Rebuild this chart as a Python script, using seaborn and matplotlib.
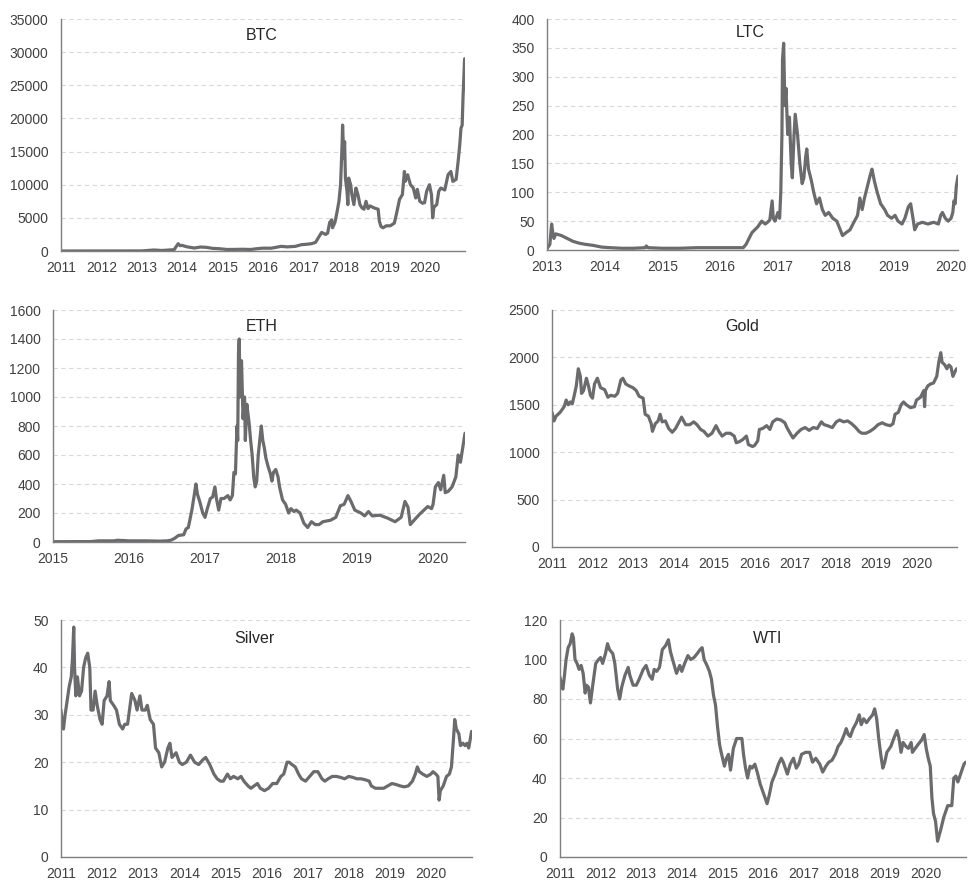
import numpy as np
import pandas as pd
import seaborn as sns
import matplotlib
matplotlib.use('Agg')
import matplotlib.pyplot as plt

# Data (x = fractional year)
btc_x = [2011.0, 2012.0, 2013.0, 2013.3, 2013.5, 2013.8, 2013.9, 2013.95, 2014.0, 2014.1, 2014.2, 2014.3,
         2014.45, 2014.6, 2014.75, 2014.9, 2015.0, 2015.1, 2015.3, 2015.5, 2015.7, 2015.85, 2016.0, 2016.2,
         2016.45, 2016.6, 2016.8, 2016.95, 2017.05, 2017.2, 2017.3, 2017.4, 2017.45, 2017.55, 2017.6, 2017.65,
         2017.7, 2017.72, 2017.78, 2017.83, 2017.88, 2017.92, 2017.96, 2017.97, 2018.0, 2018.02, 2018.04,
         2018.08, 2018.1, 2018.12, 2018.17, 2018.2, 2018.25, 2018.3, 2018.35, 2018.4, 2018.45, 2018.5, 2018.55,
         2018.6, 2018.65, 2018.75, 2018.85, 2018.88, 2018.92, 2018.97, 2019.05, 2019.15, 2019.25, 2019.3,
         2019.38, 2019.45, 2019.5, 2019.52, 2019.58, 2019.65, 2019.72, 2019.78, 2019.82, 2019.88, 2019.95,
         2020.0, 2020.05, 2020.12, 2020.17, 2020.2, 2020.23, 2020.3, 2020.35, 2020.4, 2020.5, 2020.58, 2020.65,
         2020.7, 2020.78, 2020.83, 2020.87, 2020.9, 2020.93, 2020.95, 2020.99]
btc_y = [0.3, 5, 13, 150, 80, 200, 1100, 800, 850, 650, 550, 450,
         600, 550, 400, 350, 300, 230, 240, 260, 230, 350, 430, 420,
         700, 620, 700, 950, 1000, 1100, 1300, 2300, 2800, 2500, 2700, 4300,
         4700, 3500, 4300, 5800, 7500, 10000, 16500, 19000, 14000, 16500, 11000,
         9000, 7000, 11000, 10000, 8500, 7000, 9500, 8500, 7000, 6500, 6300, 7500,
         6400, 6800, 6500, 6300, 4500, 3700, 3500, 3800, 3800, 4200, 5500,
         7800, 8500, 12000, 10500, 11500, 10000, 9500, 8000, 9300, 7500, 7200,
         7300, 9000, 10000, 8500, 5000, 6600, 7000, 9000, 9500, 9200, 11500, 12000,
         10500, 10800, 13500, 16000, 18500, 19000, 23000, 29000]

ltc_x = [2013.0, 2013.05, 2013.08, 2013.1, 2013.12, 2013.15, 2013.25, 2013.35, 2013.45, 2013.55, 2013.65,
         2013.8, 2013.95, 2014.1, 2014.3, 2014.5, 2014.7, 2014.72, 2014.75, 2015.0, 2015.3, 2015.6, 2015.9,
         2016.2, 2016.4, 2016.45, 2016.5, 2016.55, 2016.6, 2016.65, 2016.72, 2016.78, 2016.82, 2016.86, 2016.9,
         2016.92, 2016.95, 2017.0, 2017.03, 2017.05, 2017.07, 2017.08, 2017.1, 2017.12, 2017.14, 2017.17,
         2017.2, 2017.23, 2017.25, 2017.28, 2017.3, 2017.34, 2017.38, 2017.42, 2017.45, 2017.48, 2017.5,
         2017.53, 2017.58, 2017.62, 2017.67, 2017.72, 2017.77, 2017.82, 2017.88, 2017.95, 2018.02, 2018.08,
         2018.12, 2018.18, 2018.25, 2018.3, 2018.38, 2018.42, 2018.46, 2018.5, 2018.55, 2018.6, 2018.63,
         2018.67, 2018.72, 2018.78, 2018.85, 2018.9, 2018.97, 2019.03, 2019.08, 2019.15, 2019.2, 2019.26,
         2019.3, 2019.34, 2019.37, 2019.42, 2019.5, 2019.6, 2019.7, 2019.78, 2019.82, 2019.85, 2019.9,
         2019.95, 2020.0, 2020.03, 2020.05, 2020.07, 2020.09, 2020.12]
ltc_y = [2, 10, 45, 30, 20, 28, 25, 20, 15, 12, 10,
         8, 5, 4, 3, 3, 4, 7, 4, 3, 3, 4, 4,
         4, 4, 10, 20, 30, 35, 40, 50, 45, 48, 52, 85,
         55, 50, 65, 55, 100, 200, 330, 358, 250, 280, 200,
         230, 150, 125, 200, 235, 200, 150, 115, 125, 160, 175,
         140, 120, 100, 80, 90, 70, 60, 65, 55, 50, 35,
         25, 30, 35, 45, 60, 90, 70, 90, 110, 130, 140,
         120, 100, 80, 70, 60, 55, 60, 50, 45, 55, 75,
         80, 55, 35, 45, 48, 45, 48, 45, 60, 65, 55,
         50, 55, 65, 85, 80, 110, 128]

eth_x = [2015.0, 2015.5, 2015.6, 2015.8, 2015.85, 2016.0, 2016.2, 2016.4, 2016.5, 2016.55, 2016.6, 2016.65,
         2016.72, 2016.75, 2016.78, 2016.8, 2016.83, 2016.86, 2016.88, 2016.9, 2016.93, 2016.97, 2017.0,
         2017.03, 2017.07, 2017.1, 2017.13, 2017.15, 2017.18, 2017.21, 2017.25, 2017.3, 2017.33, 2017.36,
         2017.38, 2017.4, 2017.42, 2017.43, 2017.44, 2017.45, 2017.46, 2017.48, 2017.5, 2017.52, 2017.53,
         2017.55, 2017.58, 2017.6, 2017.62, 2017.64, 2017.66, 2017.68, 2017.7, 2017.72, 2017.74, 2017.76,
         2017.78, 2017.8, 2017.83, 2017.86, 2017.88, 2017.9, 2017.93, 2017.96, 2017.98, 2018.02, 2018.06,
         2018.1, 2018.13, 2018.17, 2018.2, 2018.25, 2018.3, 2018.35, 2018.4, 2018.45, 2018.5, 2018.55,
         2018.65, 2018.72, 2018.78, 2018.83, 2018.88, 2018.92, 2018.97, 2019.05, 2019.1, 2019.15, 2019.2,
         2019.3, 2019.4, 2019.5, 2019.58, 2019.63, 2019.67, 2019.7, 2019.75, 2019.82, 2019.88, 2019.93,
         2019.98, 2020.0, 2020.03, 2020.07, 2020.1, 2020.14, 2020.16, 2020.2, 2020.25, 2020.3, 2020.33,
         2020.36, 2020.39, 2020.42]
eth_y = [2, 3, 8, 8, 12, 8, 8, 6, 8, 12, 25, 45,
         50, 90, 100, 150, 230, 330, 400, 330, 280, 200, 170,
         230, 300, 310, 380, 300, 220, 300, 300, 320, 290, 320,
         480, 470, 800, 700, 1300, 1400, 1000, 1250, 850, 1000, 700,
         950, 820, 700, 600, 450, 380, 420, 600, 700, 800, 700,
         650, 580, 520, 470, 420, 480, 500, 450, 380, 290, 260,
         200, 230, 210, 220, 200, 130, 100, 140, 120, 120, 140,
         150, 170, 250, 260, 320, 280, 220, 200, 180, 210, 180,
         185, 165, 140, 170, 280, 240, 120, 150, 190, 220, 245,
         230, 260, 380, 410, 360, 460, 340, 350, 380, 450, 600,
         550, 650, 750]

gold_x = [2011.0, 2011.05, 2011.1, 2011.2, 2011.3, 2011.35, 2011.4, 2011.45, 2011.5, 2011.55, 2011.6, 2011.65,
          2011.7, 2011.73, 2011.78, 2011.85, 2011.9, 2011.95, 2012.0, 2012.05, 2012.12, 2012.2, 2012.3,
          2012.38, 2012.45, 2012.55, 2012.62, 2012.7, 2012.75, 2012.82, 2012.9, 2013.0, 2013.08, 2013.15,
          2013.25, 2013.3, 2013.38, 2013.45, 2013.48, 2013.55, 2013.62, 2013.67, 2013.72, 2013.8, 2013.88,
          2013.97, 2014.05, 2014.15, 2014.2, 2014.3, 2014.4, 2014.5, 2014.58, 2014.67, 2014.75, 2014.85,
          2014.95, 2015.05, 2015.12, 2015.2, 2015.3, 2015.4, 2015.5, 2015.55, 2015.62, 2015.7, 2015.8,
          2015.85, 2015.95, 2016.0, 2016.08, 2016.12, 2016.2, 2016.3, 2016.38, 2016.45, 2016.55, 2016.65,
          2016.75, 2016.8, 2016.88, 2016.95, 2017.05, 2017.15, 2017.25, 2017.35, 2017.45, 2017.55, 2017.65,
          2017.72, 2017.8, 2017.92, 2018.02, 2018.1, 2018.2, 2018.3, 2018.4, 2018.5, 2018.58, 2018.65,
          2018.75, 2018.85, 2018.95, 2019.05, 2019.15, 2019.25, 2019.35, 2019.42, 2019.47, 2019.55, 2019.62,
          2019.68, 2019.75, 2019.85, 2019.95, 2020.0, 2020.1, 2020.18, 2020.2, 2020.22, 2020.28, 2020.35,
          2020.42, 2020.5, 2020.55, 2020.6, 2020.63, 2020.7, 2020.75, 2020.8, 2020.85, 2020.9, 2020.95, 2020.99]
gold_y = [1420, 1330, 1380, 1420, 1480, 1550, 1500, 1530, 1510, 1600, 1700, 1880,
          1800, 1620, 1650, 1780, 1700, 1600, 1570, 1720, 1780, 1680, 1660,
          1580, 1600, 1590, 1620, 1760, 1780, 1720, 1700, 1680, 1650, 1590,
          1570, 1400, 1380, 1300, 1220, 1300, 1330, 1400, 1320, 1330, 1250,
          1210, 1250, 1330, 1370, 1290, 1290, 1320, 1290, 1240, 1220, 1170,
          1200, 1280, 1220, 1170, 1200, 1200, 1170, 1100, 1110, 1130, 1170,
          1080, 1060, 1070, 1120, 1240, 1250, 1280, 1240, 1320, 1350, 1340,
          1310, 1260, 1200, 1150, 1200, 1240, 1260, 1230, 1260, 1250, 1320,
          1290, 1280, 1260, 1320, 1340, 1320, 1330, 1300, 1260, 1220, 1200,
          1200, 1220, 1250, 1290, 1310, 1290, 1280, 1300, 1400, 1420, 1500,
          1530, 1500, 1470, 1480, 1550, 1580, 1650, 1480, 1650, 1700, 1720,
          1730, 1800, 1950, 2050, 1950, 1920, 1880, 1920, 1900, 1800, 1850, 1880]

silver_x = [2011.0, 2011.03, 2011.06, 2011.1, 2011.15, 2011.2, 2011.25, 2011.28, 2011.31, 2011.33, 2011.36,
            2011.4, 2011.45, 2011.5, 2011.55, 2011.6, 2011.65, 2011.7, 2011.73, 2011.78, 2011.83, 2011.88,
            2011.95, 2012.0, 2012.05, 2012.12, 2012.17, 2012.2, 2012.28, 2012.35, 2012.42, 2012.5, 2012.55,
            2012.62, 2012.68, 2012.72, 2012.8, 2012.85, 2012.92, 2012.97, 2013.05, 2013.1, 2013.17, 2013.25,
            2013.3, 2013.38, 2013.45, 2013.52, 2013.6, 2013.65, 2013.7, 2013.8, 2013.88, 2013.95, 2014.05,
            2014.15, 2014.25, 2014.35, 2014.45, 2014.52, 2014.62, 2014.72, 2014.8, 2014.88, 2014.95, 2015.05,
            2015.12, 2015.2, 2015.3, 2015.38, 2015.45, 2015.55, 2015.62, 2015.7, 2015.78, 2015.85, 2015.95,
            2016.05, 2016.15, 2016.25, 2016.35, 2016.42, 2016.5, 2016.55, 2016.62, 2016.7, 2016.78, 2016.85,
            2016.95, 2017.05, 2017.15, 2017.25, 2017.35, 2017.42, 2017.5, 2017.6, 2017.7, 2017.8, 2017.9,
            2018.0, 2018.1, 2018.2, 2018.3, 2018.4, 2018.5, 2018.55, 2018.65, 2018.75, 2018.85, 2018.95,
            2019.05, 2019.15, 2019.25, 2019.35, 2019.45, 2019.55, 2019.62, 2019.67, 2019.72, 2019.8, 2019.9,
            2020.0, 2020.05, 2020.12, 2020.17, 2020.2, 2020.23, 2020.3, 2020.38, 2020.45, 2020.5, 2020.55,
            2020.58, 2020.62, 2020.68, 2020.72, 2020.78, 2020.83, 2020.88, 2020.92, 2020.96, 2020.99]
silver_y = [31, 28, 27, 30, 33, 36, 38, 42, 48.5, 40, 34,
            38, 34, 35, 40, 42, 43, 40, 31, 31, 35, 32,
            29, 28, 33, 34, 37, 33, 32, 31, 28, 27, 28,
            28, 32, 34.5, 33, 31, 34, 31, 31, 32, 29, 28,
            23, 22, 19, 20, 23, 24, 21, 22, 20, 19.5, 20,
            21.5, 20, 19.5, 20.5, 21, 19.5, 17.5, 16.5, 16, 16, 17.5,
            16.5, 17, 16.5, 17, 16, 15, 14.5, 15, 15.5, 14.5, 14,
            14.5, 15.5, 15.5, 17, 17.5, 20, 20, 19.5, 19, 17.5, 16.5,
            16, 17, 18, 18, 16.5, 16, 16.5, 17, 17, 16.8, 16.5,
            17, 16.8, 16.5, 16.5, 16.3, 16, 15, 14.5, 14.5, 14.5, 15,
            15.5, 15.3, 15, 14.8, 15, 16, 17.5, 19, 18, 17.5, 17,
            17.5, 18, 17.5, 17, 12, 14, 15, 17, 17.5, 19, 25,
            29, 27, 26, 23.5, 24, 23.5, 24, 23, 25, 26.5]

wti_x = [2011.0, 2011.03, 2011.07, 2011.1, 2011.15, 2011.2, 2011.25, 2011.3, 2011.33, 2011.37, 2011.42,
         2011.47, 2011.52, 2011.57, 2011.62, 2011.65, 2011.7, 2011.75, 2011.8, 2011.88, 2011.95, 2012.0,
         2012.05, 2012.12, 2012.17, 2012.22, 2012.3, 2012.35, 2012.42, 2012.47, 2012.52, 2012.6, 2012.68,
         2012.72, 2012.8, 2012.88, 2012.95, 2013.05, 2013.12, 2013.2, 2013.27, 2013.32, 2013.38, 2013.45,
         2013.52, 2013.6, 2013.67, 2013.72, 2013.8, 2013.87, 2013.95, 2014.0, 2014.07, 2014.15, 2014.22,
         2014.3, 2014.38, 2014.45, 2014.5, 2014.55, 2014.62, 2014.68, 2014.73, 2014.78, 2014.83, 2014.88,
         2014.93, 2014.97, 2015.05, 2015.1, 2015.15, 2015.2, 2015.27, 2015.35, 2015.42, 2015.48, 2015.52,
         2015.57, 2015.62, 2015.68, 2015.73, 2015.8, 2015.87, 2015.93, 2016.0, 2016.05, 2016.1, 2016.15,
         2016.22, 2016.3, 2016.38, 2016.45, 2016.5, 2016.55, 2016.6, 2016.67, 2016.75, 2016.82, 2016.88,
         2016.95, 2017.05, 2017.15, 2017.22, 2017.3, 2017.4, 2017.47, 2017.55, 2017.62, 2017.7, 2017.78,
         2017.85, 2017.92, 2018.0, 2018.05, 2018.1, 2018.15, 2018.22, 2018.3, 2018.37, 2018.42, 2018.48,
         2018.55, 2018.62, 2018.7, 2018.75, 2018.8, 2018.85, 2018.9, 2018.95, 2019.0, 2019.05, 2019.15,
         2019.22, 2019.3, 2019.35, 2019.4, 2019.45, 2019.52, 2019.58, 2019.65, 2019.68, 2019.75, 2019.82,
         2019.9, 2019.97, 2020.02, 2020.07, 2020.12, 2020.16, 2020.2, 2020.25, 2020.3, 2020.38, 2020.45,
         2020.55, 2020.65, 2020.7, 2020.75, 2020.8, 2020.85, 2020.9, 2020.95, 2020.99]
wti_y = [91, 88, 85, 90, 100, 106, 108, 113, 111, 100, 98,
         95, 97, 93, 83, 87, 86, 78, 86, 98, 100, 101,
         98, 103, 108, 105, 103, 98, 85, 80, 86, 92, 96,
         92, 87, 87, 90, 95, 97, 92, 90, 95, 94, 96,
         105, 107, 110, 104, 98, 93, 97, 94, 98, 102, 100,
         101, 103, 105, 106, 100, 97, 94, 90, 82, 77, 66,
         57, 53, 46, 50, 52, 44, 55, 60, 60, 60, 52,
         45, 40, 46, 45, 47, 42, 37, 33, 30, 27, 31,
         38, 42, 47, 50, 48, 45, 42, 47, 50, 45, 47,
         52, 53, 53, 48, 50, 47, 43, 46, 48, 49, 52,
         56, 58, 62, 65, 62, 61, 65, 68, 72, 67, 70,
         68, 70, 72, 75, 70, 60, 52, 45, 48, 53, 56,
         60, 64, 60, 53, 58, 56, 55, 58, 53, 55, 57,
         59, 62, 55, 50, 46, 30, 22, 18, 8, 14, 20,
         26, 26, 40, 41, 38, 41, 44, 47, 48]

# name, x, y, xlim, ylim top, y step, x ticks, axes box in px (left, right, top, bottom), title pos
panels = [
    ('BTC', btc_x, btc_y, (2011, 2021), 35000, 5000, range(2011, 2021), (61, 465, 19, 251), (0.497, 0.931)),
    ('LTC', ltc_x, ltc_y, (2013, 2020.12), 400, 50, range(2013, 2021), (547, 958, 19, 250), (0.494, 0.94)),
    ('ETH', eth_x, eth_y, (2015, 2020.42), 1600, 200, range(2015, 2021), (53, 465, 310, 542), (0.507, 0.931)),
    ('Gold', gold_x, gold_y, (2011, 2021), 2500, 500, range(2011, 2021), (552, 957, 310, 547), (0.469, 0.932)),
    ('Silver', silver_x, silver_y, (2011, 2021), 50, 10, range(2011, 2021), (61, 472, 620, 857), (0.47, 0.924)),
    ('WTI', wti_x, wti_y, (2011, 2021), 120, 20, range(2011, 2021), (560, 966, 620, 857), (0.511, 0.924)),
]

sns.set_style('white')
plt.rcParams['font.family'] = ['Liberation Sans', 'DejaVu Sans']

W, H = 968, 881
fig = plt.figure(figsize=(W / 100, H / 100), dpi=100)

for name, xs, ys, xlim, ytop, ystep, xticks, box, tpos in panels:
    l, r, t, b = box
    ax = fig.add_axes([l / W, 1 - b / H, (r - l) / W, (b - t) / H])
    df = pd.DataFrame({'date': xs, 'value': ys})
    sns.lineplot(data=df, x='date', y='value', ax=ax, color='#6b6b6e', linewidth=2.3, estimator=None)
    ax.set_xlim(*xlim)
    ax.set_ylim(0, ytop)
    yt = np.arange(0, ytop + ystep / 2, ystep)
    ax.set_yticks(yt)
    ax.set_xticks(list(xticks))
    ax.set_xticklabels([str(v) for v in xticks])
    for v in yt[1:]:
        ax.axhline(v, color='#d9d9d9', linewidth=0.8, linestyle=(0, (4, 3)), zorder=0)
    ax.set_xlabel('')
    ax.set_ylabel('')
    for s in ['top', 'right']:
        ax.spines[s].set_visible(False)
    for s in ['left', 'bottom']:
        ax.spines[s].set_color('#7f7f7f')
        ax.spines[s].set_linewidth(1.0)
    ax.tick_params(axis='x', length=4, width=0.9, color='#7f7f7f', pad=3, labelsize=10, labelcolor='#404040')
    ax.tick_params(axis='y', length=0, pad=9, labelsize=10, labelcolor='#404040')
    ax.text(tpos[0], tpos[1], name, transform=ax.transAxes, ha='center', va='center',
            fontsize=11.5, color='#262626')

fig.savefig('out.png', dpi=100)
